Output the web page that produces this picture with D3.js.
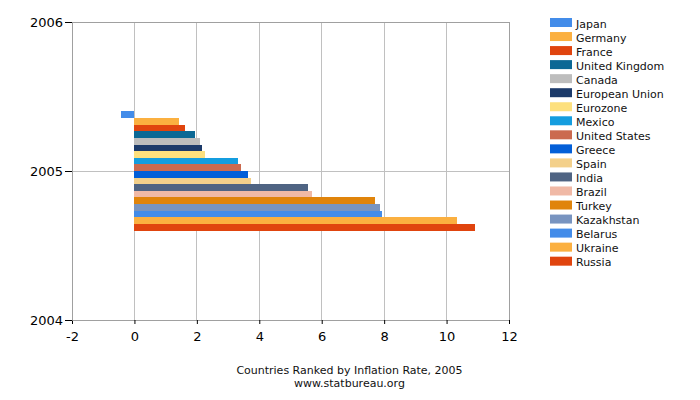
<!DOCTYPE html>
<html>
<head>
<meta charset="utf-8">
<script src="https://cdn.jsdelivr.net/npm/d3@7"></script>
<style>
  html, body { margin: 0; padding: 0; background: #fff; }
  svg { display: block; font-family: "DejaVu Sans", Verdana, sans-serif; }
</style>
</head>
<body>
<svg id="chart" width="700" height="400"></svg>
<script>
const countries = ["Japan","Germany","France","United Kingdom","Canada","European Union","Eurozone","Mexico","United States","Greece","Spain","India","Brazil","Turkey","Kazakhstan","Belarus","Ukraine","Russia"];
const inflation = [-0.42, 1.42, 1.61, 1.93, 2.09, 2.16, 2.25, 3.33, 3.41, 3.64, 3.73, 5.56, 5.69, 7.71, 7.87, 7.93, 10.34, 10.91];
const colors = ["#438ce9","#fbb040","#e0440e","#0b6895","#bdbdbd","#1c3a6a","#fde07e","#149ddf","#cb6a4f","#035fd8","#f3d08b","#4f6483","#f0b9a6","#e0840b","#7894c0","#438ce9","#fbb040","#e0440e"];
const year = 2005;
const xTicks = [-2, 0, 2, 4, 6, 8, 10, 12];
const yTicks = [2004, 2005, 2006];
const title = "Countries Ranked by Inflation Rate, 2005";
const subtitle = "www.statbureau.org";

(function () {
const svg = d3.select("#chart");
const pL = 72, pR = 509, pT = 22, pB = 320;

const x = d3.scaleLinear().domain([-2, 12]).range([pL, pR]);
const y = d3.scaleLinear().domain([2004, 2006]).range([pB, pT]);
const band = d3.scaleBand().domain(countries).range([y(year + 0.4), y(year - 0.4)]).padding(0);

// grid
svg.append("g").selectAll("line").data(xTicks).join("line")
  .attr("x1", d => x(d)).attr("x2", d => x(d))
  .attr("y1", pT).attr("y2", pB)
  .attr("stroke", "#c0c0c0").attr("stroke-width", 1).attr("shape-rendering", "crispEdges");
svg.append("g").selectAll("line").data(yTicks).join("line")
  .attr("x1", pL).attr("x2", pR)
  .attr("y1", d => y(d)).attr("y2", d => y(d))
  .attr("stroke", "#c0c0c0").attr("stroke-width", 1).attr("shape-rendering", "crispEdges");

// frame
svg.append("rect").attr("x", pL).attr("y", pT).attr("width", pR - pL).attr("height", pB - pT)
  .attr("fill", "none").attr("stroke", "#a0a0a0").attr("shape-rendering", "crispEdges");

// bars
svg.append("g").selectAll("rect").data(countries).join("rect")
  .attr("x", (d, i) => x(Math.min(0, inflation[i])))
  .attr("width", (d, i) => Math.abs(x(inflation[i]) - x(0)))
  .attr("y", d => band(d))
  .attr("height", band.bandwidth())
  .attr("fill", (d, i) => colors[i])
  .attr("shape-rendering", "crispEdges");

// axes
const xAxis = d3.axisBottom(x).tickValues(xTicks).tickSize(4).tickPadding(8).tickFormat(d => String(d));
const gx = svg.append("g").attr("transform", `translate(0,${pB})`).call(xAxis);
gx.select(".domain").attr("stroke", "#a0a0a0");
gx.selectAll(".tick line").attr("stroke", "#000");
gx.selectAll("text").attr("font-size", 13).attr("fill", "#000").attr("font-family", "DejaVu Sans");

const yAxis = d3.axisLeft(y).tickValues(yTicks).tickSize(7).tickPadding(2).tickFormat(d => String(d));
const gy = svg.append("g").attr("transform", `translate(${pL},0)`).call(yAxis);
gy.select(".domain").attr("stroke", "#a0a0a0");
gy.selectAll(".tick line").attr("stroke", "#000");
gy.selectAll("text").attr("font-size", 13).attr("fill", "#000").attr("font-family", "DejaVu Sans");

// legend
const leg = svg.append("g").attr("transform", "translate(550,18)");
const step = 14.04;
const items = leg.selectAll("g").data(countries).join("g")
  .attr("transform", (d, i) => `translate(0,${i * step})`);
items.append("rect").attr("width", 22).attr("height", 9).attr("fill", (d, i) => colors[i]);
items.append("text").attr("x", 26).attr("y", 9.5).attr("font-size", 11).attr("fill", "#111").text(d => d);

// title
svg.append("text").attr("x", 349.5).attr("y", 373.5).attr("text-anchor", "middle")
  .attr("font-size", 11).attr("fill", "#111").text(title);
svg.append("text").attr("x", 349.5).attr("y", 386.5).attr("text-anchor", "middle")
  .attr("font-size", 11).attr("fill", "#111").text(subtitle);
})();
</script>
</body>
</html>
